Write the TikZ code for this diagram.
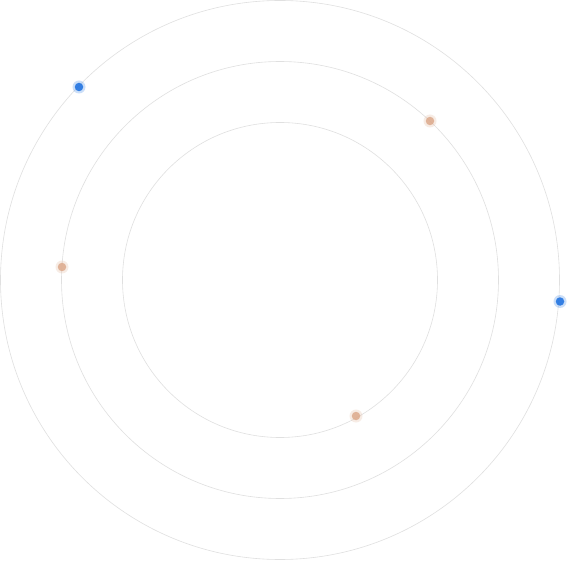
\documentclass[tikz,border=0pt]{standalone}
\begin{document}
\begin{tikzpicture}[x=1pt,y=-1pt,
  ring/.style={draw=black!12,line width=0.6pt},
  halo/.style={circle,inner sep=0pt,minimum size=13pt,fill=#1,opacity=0.22},
  core/.style={circle,inner sep=0pt,minimum size=8.5pt,fill=#1,opacity=0.85}]
\definecolor{dotblue}{HTML}{1A6FE0}
\definecolor{dottan}{HTML}{DDAA8C}
\useasboundingbox (0,0) rectangle (570,561);
\fill[white] (0,0) rectangle (570,561);
\coordinate (c) at (280,280);
\draw[ring] (c) circle (279.5);
\draw[ring] (c) circle (218.5);
\draw[ring] (c) circle (157.5);
\foreach \n/\x/\y/\col in {b1/79/87/dotblue, b2/560/301.5/dotblue, t1/430/121/dottan, t2/62/267/dottan, t3/356/416/dottan}{
  \node[halo=\col] (\n h) at (\x,\y) {};
  \node[core=\col] (\n) at (\x,\y) {};
}
\end{tikzpicture}
\end{document}
